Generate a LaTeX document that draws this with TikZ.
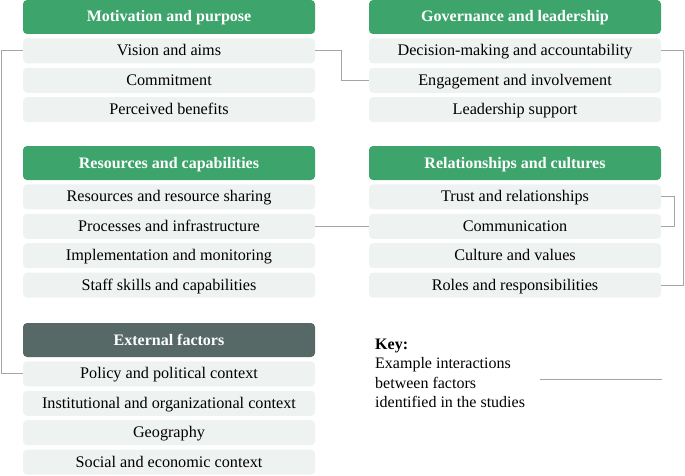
\documentclass[tikz,border=0pt]{standalone}
\usepackage{fontspec}
\setmainfont{Liberation Serif}
\usetikzlibrary{positioning}

\definecolor{headgreen}{HTML}{3DA56C}
\definecolor{headdark}{HTML}{566967}
\definecolor{itemgray}{HTML}{EEF2F1}
\definecolor{linkgray}{HTML}{A3A6A5}

\tikzset{
  head/.style={rectangle,rounded corners=4pt,fill=headgreen,text=white,
    font=\fontsize{16}{18}\selectfont\bfseries,
    text height=11pt,text depth=1pt,
    minimum width=292pt,minimum height=34pt,inner sep=0pt},
  outer/.style={head,fill=headdark},
  item/.style={rectangle,rounded corners=4pt,fill=itemgray,
    font=\fontsize{16.2}{18}\selectfont,
    text height=11pt,text depth=1pt,
    minimum width=292pt,minimum height=25pt,inner sep=0pt},
  link/.style={draw=linkgray,line width=0.9pt}
}

\begin{document}
\begin{tikzpicture}[x=1pt,y=-1pt,node distance=4pt]
  \useasboundingbox (0,0) rectangle (685,476);

  % motivation and purpose
  \node[head]  (m_0) at (169,17)         {Motivation and purpose};
  \node[item]  (m_1) [below=of m_0]      {Vision and aims};
  \node[item]  (m_2) [below=of m_1]      {Commitment};
  \node[item]  (m_3) [below=of m_2]      {Perceived benefits};

  % governance and leadership
  \node[head]  (g_0) at (515,17)         {Governance and leadership};
  \node[item]  (g_1) [below=of g_0]      {Decision-making and accountability};
  \node[item]  (g_2) [below=of g_1]      {Engagement and involvement};
  \node[item]  (g_3) [below=of g_2]      {Leadership support};

  % resources and capabilities
  \node[head]  (r_0) at (169,163)        {Resources and capabilities};
  \node[item]  (r_1) [below=of r_0]      {Resources and resource sharing};
  \node[item]  (r_2) [below=of r_1]      {Processes and infrastructure};
  \node[item]  (r_3) [below=of r_2]      {Implementation and monitoring};
  \node[item]  (r_4) [below=of r_3]      {Staff skills and capabilities};

  % relationships and cultures
  \node[head]  (c_0) at (515,163)        {Relationships and cultures};
  \node[item]  (c_1) [below=of c_0]      {Trust and relationships};
  \node[item]  (c_2) [below=of c_1]      {Communication};
  \node[item]  (c_3) [below=of c_2]      {Culture and values};
  \node[item]  (c_4) [below=of c_3]      {Roles and responsibilities};

  % external factors
  \node[outer] (e_0) at (169,340)        {External factors};
  \node[item]  (e_1) [below=of e_0]      {Policy and political context};
  \node[item]  (e_2) [below=of e_1]      {Institutional and organizational context};
  \node[item]  (e_3) [below=of e_2]      {Geography};
  \node[item]  (e_4) [below=of e_3]      {Social and economic context};

  % key
  \node[anchor=north west,align=left,inner sep=0pt,
        font=\fontsize{16}{19.3}\selectfont] (key) at (375,339)
    {\textbf{Key:}\\Example interactions\\between factors\\identified in the studies};
  \coordinate (k_a) at (540,379);
  \coordinate (k_b) at (662,379);

  % interactions
  \draw[link] (m_1.west) -- ++(-21,0) |- (e_1.west);
  \draw[link] (m_1.east) -- ++(26,0) |- (g_2.west);
  \draw[link] (r_2.east) -- (c_2.west);
  \draw[link] (c_1.east) -- ++(13,0) |- (c_2.east);
  \draw[link] (g_1.east) -- ++(22,0) |- (c_4.east);
  \draw[link] (k_a) -- (k_b);
\end{tikzpicture}
\end{document}
